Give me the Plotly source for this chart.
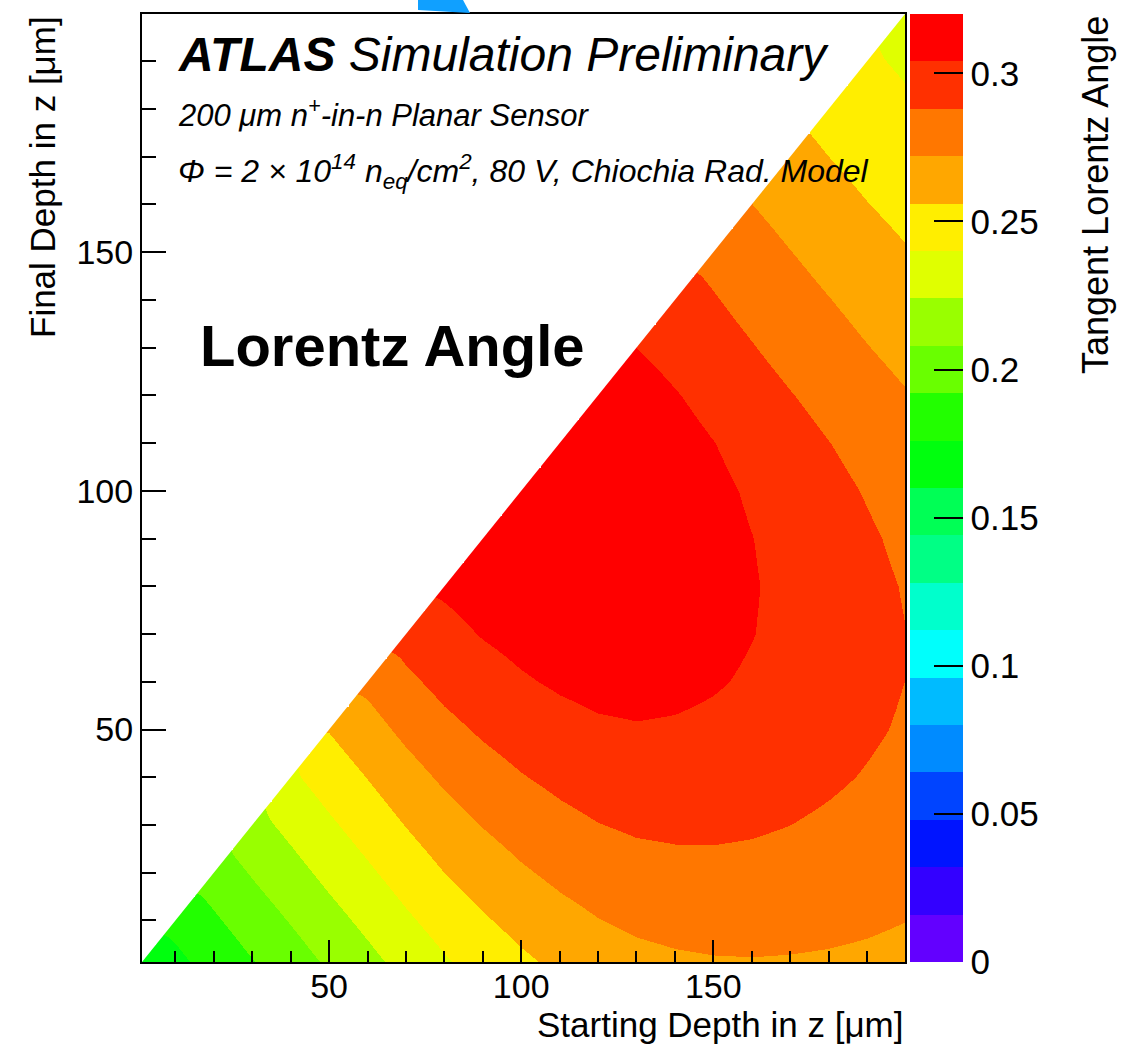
import plotly.graph_objects as go

# Depth nodes (um) of the lookup grid, shared by both axes
DEPTH_NODES = [0, 10, 20, 30, 40, 50, 60, 70, 80, 90, 100,
               110, 120, 130, 140, 150, 160, 170, 180, 190, 200]

# Mean tan(theta_L) for a drift from a starting depth (x) to a final depth (y).
# Row k is the final depth DEPTH_NODES[k]; it lists the values for starting
# depths from that same depth up to 200 um.
TAN_LA_ROWS = [
    [0.1616, 0.1711, 0.1806, 0.1901, 0.1996, 0.2091, 0.2186, 0.2281, 0.2371, 0.2451, 0.2521,
     0.2582, 0.2632, 0.2667, 0.2688, 0.2699, 0.2703, 0.2700, 0.2694, 0.2685, 0.2671],
    [0.1806, 0.1901, 0.1996, 0.2091, 0.2186, 0.2281, 0.2376, 0.2465, 0.2544, 0.2611,
     0.2669, 0.2716, 0.2749, 0.2767, 0.2776, 0.2776, 0.2769, 0.2757, 0.2741, 0.2722],
    [0.1996, 0.2091, 0.2186, 0.2281, 0.2376, 0.2470, 0.2559, 0.2635, 0.2700,
     0.2755, 0.2798, 0.2826, 0.2839, 0.2843, 0.2839, 0.2827, 0.2810, 0.2790, 0.2767],
    [0.2186, 0.2281, 0.2376, 0.2471, 0.2565, 0.2652, 0.2726, 0.2787, 0.2838,
     0.2876, 0.2899, 0.2907, 0.2906, 0.2896, 0.2880, 0.2858, 0.2834, 0.2807],
    [0.2376, 0.2471, 0.2566, 0.2660, 0.2745, 0.2815, 0.2872, 0.2917,
     0.2951, 0.2968, 0.2970, 0.2963, 0.2948, 0.2926, 0.2900, 0.2871, 0.2840],
    [0.2566, 0.2661, 0.2755, 0.2836, 0.2901, 0.2952, 0.2992, 0.3019,
     0.3030, 0.3025, 0.3012, 0.2991, 0.2964, 0.2933, 0.2899, 0.2865],
    [0.2756, 0.2848, 0.2924, 0.2981, 0.3025, 0.3058, 0.3079,
     0.3083, 0.3071, 0.3051, 0.3024, 0.2991, 0.2955, 0.2918, 0.2879],
    [0.2940, 0.3000, 0.3048, 0.3083, 0.3110, 0.3125, 0.3122,
     0.3103, 0.3076, 0.3043, 0.3006, 0.2965, 0.2923, 0.2882],
    [0.3060, 0.3095, 0.3125, 0.3147, 0.3156, 0.3146,
     0.3120, 0.3087, 0.3049, 0.3006, 0.2962, 0.2916, 0.2872],
    [0.3130, 0.3155, 0.3173, 0.3177, 0.3159, 0.3125,
     0.3086, 0.3042, 0.2995, 0.2947, 0.2899, 0.2851],
    [0.3180, 0.3190, 0.3188, 0.3160, 0.3118,
     0.3072, 0.3023, 0.2972, 0.2921, 0.2870, 0.2821],
    [0.3200, 0.3185, 0.3145, 0.3093, 0.3043,
     0.2990, 0.2936, 0.2882, 0.2830, 0.2780],
    [0.3170, 0.3105, 0.3048, 0.2995, 0.2941,
     0.2886, 0.2832, 0.2779, 0.2729],
    [0.3040, 0.2990, 0.2940, 0.2887, 0.2831, 0.2777, 0.2725, 0.2676],
    [0.2940, 0.2890, 0.2835, 0.2778, 0.2724, 0.2672, 0.2623],
    [0.2840, 0.2780, 0.2723, 0.2668, 0.2618, 0.2570],
    [0.2720, 0.2665, 0.2613, 0.2563, 0.2518],
    [0.2610, 0.2560, 0.2513, 0.2468],
    [0.2510, 0.2465, 0.2423],
    [0.2420, 0.2380],
    [0.2340],
]

# 20 contour bands of the violet-to-red "pretty" palette
BAND_COLOURS = [
    "#6300ff", "#3300ff", "#0014ff", "#0044ff", "#008bff",
    "#00bbff", "#00fffc", "#00ffcc", "#00ff85", "#00ff55",
    "#00ff0e", "#22ff00", "#69ff00", "#99ff00", "#e0ff00",
    "#ffee00", "#ffa700", "#ff7700", "#ff3000", "#ff0000",
]
Z_MIN, Z_MAX = 0.0, 0.32

CBAR_TICKS = [0.0, 0.05, 0.10, 0.15, 0.20, 0.25, 0.30]
CBAR_LABELS = ["0", "0.05", "0.1", "0.15", "0.2", "0.25", "0.3"]

AXIS_LO, AXIS_HI = 1.3, 199.9
MAJOR_TICKS = [50, 100, 150]
MINOR_TICKS = [10, 20, 30, 40, 60, 70, 80, 90, 110, 120, 130, 140,
               160, 170, 180, 190]

# canvas and frame geometry (pixels)
W, H = 1132, 1045
PLOT_L, PLOT_R, PLOT_T, PLOT_B = 142, 905, 14, 962
FONT = "Liberation Sans, Arial, Helvetica, sans-serif"


def px_x(p):
    return (p - PLOT_L) / (PLOT_R - PLOT_L)


def px_y(p):
    return (PLOT_B - p) / (PLOT_B - PLOT_T)


# full square grid, empty where the final depth lies beyond the start
z_grid = [[None] * k + row for k, row in enumerate(TAN_LA_ROWS)]

n_bands = len(BAND_COLOURS)
colorscale = []
for k, c in enumerate(BAND_COLOURS):
    colorscale.append([k / n_bands, c])
    colorscale.append([(k + 1) / n_bands, c])

fig = go.Figure()

fig.add_trace(go.Heatmap(
    x=DEPTH_NODES, y=DEPTH_NODES, z=z_grid,
    zmin=Z_MIN, zmax=Z_MAX, zsmooth="best",
    colorscale=colorscale, hoverongaps=False,
    colorbar=dict(
        x=px_x(910), xanchor="left", xpad=0,
        y=0.5, yanchor="middle", ypad=0,
        len=1, lenmode="fraction",
        thickness=53, thicknessmode="pixels",
        outlinewidth=0,
        ticks="inside", ticklen=29, tickwidth=2, tickcolor="black",
        tickvals=CBAR_TICKS, ticktext=CBAR_LABELS,
        tickfont=dict(family=FONT, size=35, color="black"),
    ),
))

# blank out the unphysical half above the diagonal
fig.add_trace(go.Scatter(
    x=[AXIS_LO - 10, AXIS_HI + 10, AXIS_LO - 10],
    y=[AXIS_LO - 10, AXIS_HI + 10, AXIS_HI + 10],
    mode="lines", fill="toself", fillcolor="white",
    line=dict(width=0, color="white"),
    hoverinfo="skip", showlegend=False,
))

axis_common = dict(
    range=[AXIS_LO, AXIS_HI],
    tickmode="array", tickvals=MAJOR_TICKS,
    ticks="inside", tickwidth=2, tickcolor="black",
    showline=True, linecolor="black", linewidth=2, mirror=True,
    showgrid=False, zeroline=False,
    tickfont=dict(family=FONT, size=34, color="black"),
)

fig.update_xaxes(**axis_common, ticklen=22, ticklabelstandoff=-7,
                 minor=dict(tickvals=MINOR_TICKS, ticks="inside", ticklen=11,
                            tickwidth=2, tickcolor="black", showgrid=False))
fig.update_yaxes(**axis_common, ticklen=24,
                 minor=dict(tickvals=MINOR_TICKS, ticks="inside", ticklen=14,
                            tickwidth=2, tickcolor="black", showgrid=False))

annotations = [
    dict(text="<b><i>ATLAS</i></b><i> Simulation Preliminary</i>",
         x=px_x(176), y=px_y(55), xanchor="left", yanchor="middle",
         font=dict(family=FONT, size=48)),
    dict(text="<i>200 \u03bcm n<sup>+</sup>-in-n Planar Sensor</i>",
         x=px_x(176), y=px_y(113), xanchor="left", yanchor="middle",
         font=dict(family=FONT, size=31)),
    dict(text="<i>\u03a6 = 2 \u00d7 10<sup>14</sup> n<sub>eq</sub>/cm<sup>2</sup>, "
              "80 V, Chiochia Rad. Model</i>",
         x=px_x(176), y=px_y(172), xanchor="left", yanchor="middle",
         font=dict(family=FONT, size=32)),
    dict(text="<b>Lorentz Angle</b>",
         x=px_x(198), y=px_y(345), xanchor="left", yanchor="middle",
         font=dict(family=FONT, size=58)),
    dict(text="Starting Depth in z [\u03bcm]",
         x=1.0, y=px_y(1024), xanchor="right", yanchor="middle",
         font=dict(family=FONT, size=35)),
    dict(text="Final Depth in z [\u03bcm]", textangle=-90,
         x=px_x(42), y=1.0, xanchor="center", yanchor="top",
         font=dict(family=FONT, size=35)),
    dict(text="Tangent Lorentz Angle", textangle=-90,
         x=px_x(1095), y=1.0, xanchor="center", yanchor="top",
         font=dict(family=FONT, size=36)),
]
for a in annotations:
    a.update(xref="paper", yref="paper", showarrow=False)
    a["font"]["color"] = "black"

shapes = [
    # right-hand axis line of the colour scale
    dict(type="line", xref="paper", yref="paper",
         x0=px_x(962), x1=px_x(962), y0=0, y1=1,
         line=dict(color="black", width=2)),
    # tip of the blue pointer arrow at the top edge
    dict(type="path", xref="paper", yref="paper",
         path=f"M {px_x(418)} {px_y(0)} L {px_x(463)} {px_y(0)} "
              f"L {px_x(470)} {px_y(13)} L {px_x(418)} {px_y(10)} Z",
         fillcolor="#10a0ff", line=dict(width=0)),
]

fig.update_layout(
    width=W, height=H,
    margin=dict(l=PLOT_L, r=W - PLOT_R, t=PLOT_T, b=H - PLOT_B),
    paper_bgcolor="white", plot_bgcolor="white",
    showlegend=False,
    font=dict(family=FONT, color="black"),
    annotations=annotations,
    shapes=shapes,
)

fig.write_html("out.html")
